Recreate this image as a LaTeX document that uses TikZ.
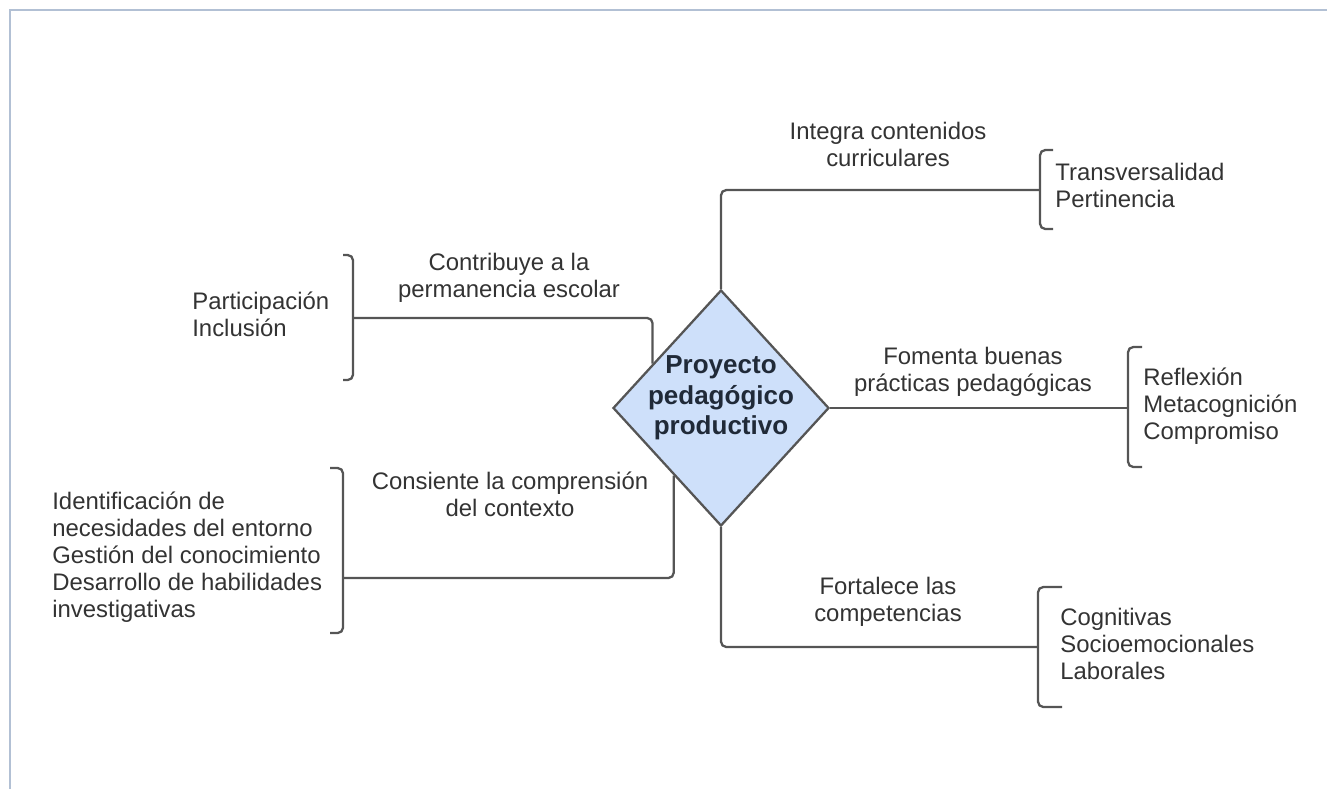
\documentclass[tikz,border=0pt]{standalone}
\usepackage{fontspec}
\setmainfont{Liberation Sans}
\usepackage{xcolor}
\usepackage{tikz}
\usetikzlibrary{shapes.geometric,positioning,calc}
\definecolor{hubblue}{RGB}{206,224,250}
\definecolor{linegray}{RGB}{85,85,85}
\definecolor{txtgray}{RGB}{51,51,51}
\definecolor{hubtxt}{RGB}{32,42,56}
\definecolor{framegray}{RGB}{178,192,212}

\begin{document}
\begin{tikzpicture}[every node/.style={font=\fontsize{13.6}{15.4}\selectfont,text=txtgray},
  lbl/.style={align=center,inner sep=0pt},
  items/.style={align=left,anchor=west,inner sep=0pt},
  link/.style={draw=linegray,line width=1.3pt,rounded corners=3pt},
  brk/.style={draw=linegray,line width=1.3pt,rounded corners=3pt}]
\useasboundingbox (0,0) rectangle (26.54,-15.78);
\draw[framegray,line width=1.1pt] (0.2,-15.78) -- (0.2,-0.2) -- (26.54,-0.2);

% hub
\node[diamond,draw=linegray,line width=1.3pt,fill=hubblue,minimum width=4.32cm,minimum height=4.72cm,inner sep=0pt] (hub) at (14.42,-8.16) {};
\node[font=\fontsize{14.8}{17.3}\selectfont\bfseries,text=hubtxt,align=center] (hubname) at (14.42,-7.96) {Proyecto\\pedagógico\\productivo};

% top branch
\coordinate (bT) at (20.8,-3.8);
\draw[brk] (21.06,-3.0) -| (20.8,-4.58) -- (21.06,-4.58);
\node[items] (transv) at (21.1,-3.71) {Transversalidad\\Pertinencia};
\node[lbl] (integra) at (17.76,-2.88) {Integra contenidos\\curriculares};
\draw[link] (hub.north) |- (bT);

% right branch
\coordinate (bR) at (22.56,-8.16);
\draw[brk] (22.84,-6.94) -| (22.56,-9.34) -- (22.84,-9.34);
\node[items] (refl) at (22.86,-8.12) {Reflexión\\Metacognición\\Compromiso};
\node[lbl] (fomenta) at (19.46,-7.44) {Fomenta buenas\\prácticas pedagógicas};
\draw[link] (hub.east) -- (bR);

% bottom branch
\coordinate (bB) at (20.76,-12.94);
\draw[brk] (21.24,-11.74) -| (20.76,-14.14) -- (21.24,-14.14);
\node[items] (cogn) at (21.2,-12.88) {Cognitivas\\Socioemocionales\\Laborales};
\node[lbl] (fortalece) at (17.76,-12.04) {Fortalece las\\competencias};
\draw[link] (hub.south) |- (bB);

% upper left branch
\coordinate (bUL) at (7.06,-6.36);
\draw[brk] (6.86,-5.1) -| (7.06,-7.6) -- (6.86,-7.6);
\node[items] (partic) at (3.84,-6.29) {Participación\\Inclusión};
\node[lbl] (contribuye) at (10.18,-5.55) {Contribuye a la\\permanencia escolar};
\draw[link] (hub.147) |- (bUL);

% lower left branch
\coordinate (bLL) at (6.86,-11.56);
\draw[brk] (6.6,-9.36) -| (6.86,-12.66) -- (6.6,-12.66);
\node[items] (ident) at (1.04,-11.14) {Identificación de\\necesidades del entorno\\Gestión del conocimiento\\Desarrollo de habilidades\\investigativas};
\node[lbl] (consiente) at (10.2,-9.88) {Consiente la comprensión\\del contexto};
\draw[link] (hub.235) |- (bLL);
\end{tikzpicture}
\end{document}
